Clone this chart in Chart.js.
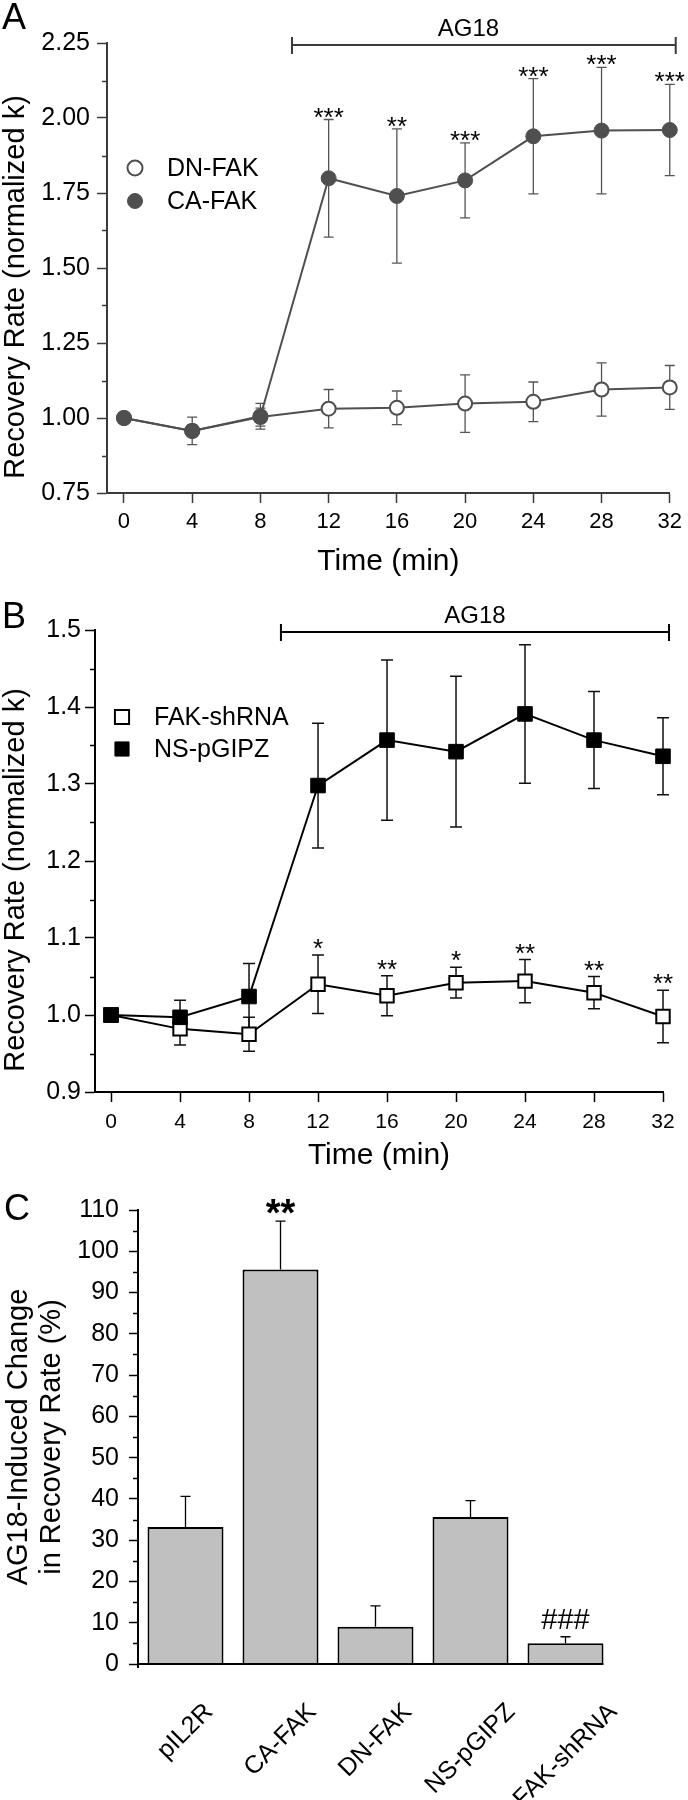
<!DOCTYPE html>
<html>
<head>
<meta charset="utf-8">
<script src="https://cdn.jsdelivr.net/npm/chart.js@4.4.0/dist/chart.umd.min.js"></script>
<style>
  body { margin: 0; background: #fff; width: 688px; height: 1800px; position: relative; overflow: hidden; }
  canvas { position: absolute; left: 0; }
</style>
</head>
<body>
<canvas id="panelA" width="688" height="590" style="top:0"></canvas>
<canvas id="panelB" width="688" height="590" style="top:590px"></canvas>
<canvas id="panelC" width="688" height="620" style="top:1180px"></canvas>
<script>
// time points (min)
const minutes = [0, 4, 8, 12, 16, 20, 24, 28, 32];
const ag18Span = [9.85, 32.35];

// panel A
const dnFak = [1.0, 0.957, 1.003, 1.031, 1.034, 1.048, 1.054, 1.095, 1.102];
const dnFakErr = [0, 0.02, 0.03, 0.064, 0.056, 0.096, 0.066, 0.089, 0.073];
const caFak = [1.0, 0.957, 1.006, 1.799, 1.740, 1.792, 1.939, 1.958, 1.960];
const caFakErr = [0, 0.046, 0.043, 0.196, 0.224, 0.125, 0.192, 0.211, 0.152];
const caFakStars = ['', '', '', '***', '**', '***', '***', '***', '***'];
const ticksA = [0.75, 1.0, 1.25, 1.5, 1.75, 2.0, 2.25];

// panel B
const fakShrna = [1.0, 0.982, 0.975, 1.040, 1.025, 1.042, 1.044, 1.029, 0.998];
const fakShrnaErr = [0, 0.021, 0.022, 0.038, 0.026, 0.020, 0.028, 0.021, 0.034];
const fakShrnaStars = ['', '', '', '*', '**', '*', '**', '**', '**'];
const nsPgipz = [1.0, 0.997, 1.024, 1.298, 1.357, 1.342, 1.391, 1.357, 1.336];
const nsPgipzErr = [0, 0.022, 0.043, 0.081, 0.104, 0.098, 0.090, 0.063, 0.050];
const ticksB = [0.9, 1.0, 1.1, 1.2, 1.3, 1.4, 1.5];

// panel C
const groups = ['pIL2R', 'CA-FAK', 'DN-FAK', 'NS-pGIPZ', 'FAK-shRNA'];
const changePct = [33.2, 95.6, 9.0, 35.6, 5.0];
const changeErr = [7.4, 11.7, 5.1, 4.0, 1.6];
const changeMarks = ['', '**', '', '', '###'];

const FONT = "'Liberation Sans', Arial, sans-serif";
Chart.defaults.font.family = FONT;
Chart.defaults.color = '#000';
Chart.defaults.animation = false;
Chart.defaults.plugins.legend.display = false;
Chart.defaults.plugins.tooltip.enabled = false;

function minorTicks(ctx, ys, majors, len, color) {
    const x = ys.right;
    ctx.save();
    ctx.strokeStyle = color;
    ctx.lineWidth = 1.5;
    ctx.beginPath();
    for (let i = 0; i < majors.length - 1; i++) {
        const y = Math.round(ys.getPixelForValue((majors[i] + majors[i + 1]) / 2)) + 0.5;
        ctx.moveTo(x - len, y);
        ctx.lineTo(x, y);
    }
    ctx.stroke();
    ctx.restore();
}

function marker(ctx, shape, x, y, r, filled, ink) {
    ctx.save();
    ctx.fillStyle = filled ? ink : '#fff';
    ctx.strokeStyle = ink;
    ctx.lineWidth = filled ? 1 : 2;
    ctx.beginPath();
    if (shape == 'circle') {
        ctx.arc(x, y, r, 0, Math.PI * 2);
    } else {
        const h = r * Math.SQRT1_2;
        ctx.rect(x - h, y - h, 2 * h, 2 * h);
    }
    ctx.fill();
    ctx.stroke();
    ctx.restore();
}

function timePanel(id, p) {
    const decor = {
        id: 'decor' + id,
        beforeDatasetsDraw(chart) {
            const ctx = chart.ctx, xs = chart.scales.x, ys = chart.scales.y;
            ctx.save();
            ctx.strokeStyle = p.errInk;
            ctx.lineWidth = p.errWidth;
            p.series.forEach(s => {
                s.values.forEach((v, i) => {
                    const e = s.err[i];
                    if (!e) return;
                    const x = xs.getPixelForValue(minutes[i]);
                    const y1 = ys.getPixelForValue(v + e), y2 = ys.getPixelForValue(v - e);
                    ctx.beginPath();
                    ctx.moveTo(x, y1); ctx.lineTo(x, y2);
                    ctx.moveTo(x - p.cap, y1); ctx.lineTo(x + p.cap, y1);
                    ctx.moveTo(x - p.cap, y2); ctx.lineTo(x + p.cap, y2);
                    ctx.stroke();
                });
            });
            ctx.restore();
        },
        afterDatasetsDraw(chart) {
            const ctx = chart.ctx, xs = chart.scales.x, ys = chart.scales.y;
            const area = chart.chartArea;
            minorTicks(ctx, ys, p.yTicks, 5, p.axisInk);

            // significance stars
            ctx.save();
            ctx.fillStyle = '#000';
            ctx.font = p.starSize + 'px ' + FONT;
            ctx.textAlign = 'center';
            ctx.textBaseline = 'alphabetic';
            const s = p.series[p.starSeries];
            p.stars.forEach((t, i) => {
                if (!t) return;
                const x = xs.getPixelForValue(minutes[i]);
                const y = ys.getPixelForValue(s.values[i] + s.err[i]);
                ctx.fillText(t, x, y + p.starDy);
            });

            // AG18 bracket
            const ax1 = xs.getPixelForValue(ag18Span[0]), ax2 = xs.getPixelForValue(ag18Span[1]);
            const ay = area.top + 2;
            ctx.strokeStyle = p.axisInk;
            ctx.lineWidth = 2;
            ctx.beginPath();
            ctx.moveTo(ax1, ay); ctx.lineTo(ax2, ay);
            ctx.moveTo(ax1, ay - 8); ctx.lineTo(ax1, ay + 9);
            ctx.moveTo(ax2, ay - 8); ctx.lineTo(ax2, ay + 9);
            ctx.stroke();
            ctx.font = '24px ' + FONT;
            ctx.textBaseline = 'middle';
            ctx.fillText('AG18', xs.getPixelForValue(p.agText), area.top - 14);

            // legend
            ctx.font = '25px ' + FONT;
            ctx.textAlign = 'left';
            p.series.forEach((sr, k) => {
                const ly = p.legend.y + k * p.legend.gap;
                marker(ctx, p.shape, p.legend.x, ly, p.shape == 'circle' ? 7.5 : 10, sr.filled, p.ink);
                ctx.fillStyle = '#000';
                ctx.fillText(sr.label, p.legend.x + 32, ly + 1);
            });

            // y title, panel letter
            ctx.save();
            ctx.translate(16, (area.top + area.bottom) / 2 + 19);
            ctx.rotate(-Math.PI / 2);
            ctx.font = '29px ' + FONT;
            ctx.textAlign = 'center';
            ctx.fillText('Recovery Rate (normalized k)', 0, 0);
            ctx.restore();
            ctx.font = '36px ' + FONT;
            ctx.textAlign = 'left';
            ctx.textBaseline = 'alphabetic';
            ctx.fillText(p.letter, 2, p.letterY);
            ctx.restore();
        }
    };

    return new Chart(document.getElementById(id), {
        type: 'line',
        data: {
            datasets: p.series.map(s => ({
                label: s.label,
                data: minutes.map((m, i) => ({x: m, y: s.values[i]})),
                borderColor: p.ink,
                borderWidth: 2,
                tension: 0,
                clip: false,
                pointStyle: p.shape,
                pointRadius: s.filled ? p.rFill : p.rOpen,
                pointBackgroundColor: s.filled ? p.ink : '#fff',
                pointBorderColor: p.ink,
                pointBorderWidth: s.filled ? 1 : 2,
                order: s.filled ? 0 : 1
            }))
        },
        options: {
            responsive: false,
            layout: {padding: p.pad},
            scales: {
                x: {
                    type: 'linear',
                    min: p.xMin,
                    max: 32,
                    afterBuildTicks: s => { s.ticks = minutes.map(v => ({value: v})); },
                    afterFit: s => { s.height = p.xh; },
                    grid: {drawOnChartArea: false, tickLength: 10, tickWidth: 1.5, tickColor: p.axisInk},
                    border: {color: p.axisInk, width: 2},
                    ticks: {font: {size: p.xTickSize}, padding: p.xPad, color: '#000', maxRotation: 0},
                    title: {display: true, text: 'Time (min)', color: '#000', font: {size: 30}, padding: {top: 0, bottom: p.titlePad}}
                },
                y: {
                    min: p.yTicks[0],
                    max: p.yTicks[p.yTicks.length - 1],
                    afterBuildTicks: s => { s.ticks = p.yTicks.map(v => ({value: v})); },
                    afterFit: s => { s.width = p.yw; },
                    grid: {drawOnChartArea: false, tickLength: 10, tickWidth: 1.5, tickColor: p.axisInk},
                    border: {color: p.axisInk, width: 2},
                    ticks: {font: {size: 25}, padding: p.yPad, color: '#000', callback: v => v.toFixed(p.digits)}
                }
            }
        },
        plugins: [decor]
    });
}

timePanel('panelA', {
    letter: 'A', letterY: 29,
    series: [
        {label: 'DN-FAK', values: dnFak, err: dnFakErr, filled: false},
        {label: 'CA-FAK', values: caFak, err: caFakErr, filled: true}
    ],
    starSeries: 1, stars: caFakStars, starSize: 26, starDy: 6,
    shape: 'circle', rFill: 7.5, rOpen: 7,
    ink: '#4f4f4f', axisInk: '#3a3a3a', errInk: '#555', errWidth: 1.3, cap: 5,
    pad: {top: 43, right: 18, bottom: 9, left: 0}, xh: 88, yw: 107,
    xMin: -0.996, xTickSize: 22, xPad: 6, titlePad: 1, yPad: 7,
    yTicks: ticksA, digits: 2, agText: 20.2,
    legend: {x: 135, y: 168, gap: 33}
});

timePanel('panelB', {
    letter: 'B', letterY: 38,
    series: [
        {label: 'FAK-shRNA', values: fakShrna, err: fakShrnaErr, filled: false},
        {label: 'NS-pGIPZ', values: nsPgipz, err: nsPgipzErr, filled: true}
    ],
    starSeries: 0, stars: fakShrnaStars, starSize: 26, starDy: 2,
    shape: 'rect', rFill: 10.3, rOpen: 9.5,
    ink: '#000', axisInk: '#000', errInk: '#111', errWidth: 1.5, cap: 6,
    pad: {top: 40, right: 25, bottom: 4, left: 0}, xh: 84, yw: 95,
    xMin: -0.93, xTickSize: 21, xPad: 8, titlePad: 2, yPad: 4,
    yTicks: ticksB, digits: 1, agText: 21.1,
    legend: {x: 122, y: 127, gap: 32}
});

const barDecor = {
    id: 'barDecor',
    afterDatasetsDraw(chart) {
        const ctx = chart.ctx, xs = chart.scales.x, ys = chart.scales.y;
        const area = chart.chartArea;
        const bars = chart.getDatasetMeta(0).data;
        minorTicks(ctx, ys, ys.ticks.map(t => t.value), 5, '#000');

        ctx.save();
        // error bars, upper side only
        ctx.strokeStyle = '#000';
        ctx.lineWidth = 1.3;
        changePct.forEach((v, i) => {
            const x = xs.getPixelForValue(i);
            const y0 = ys.getPixelForValue(v), y1 = ys.getPixelForValue(v + changeErr[i]);
            ctx.beginPath();
            ctx.moveTo(x, y0); ctx.lineTo(x, y1);
            ctx.moveTo(x - 5, y1); ctx.lineTo(x + 5, y1);
            ctx.stroke();
        });

        // x axis runs to the right edge of the last bar
        const last = bars[bars.length - 1];
        ctx.lineWidth = 2;
        ctx.beginPath();
        ctx.moveTo(area.left, area.bottom);
        ctx.lineTo(last.x + last.width / 2, area.bottom);
        ctx.moveTo(area.left, area.bottom);
        ctx.lineTo(area.left, area.bottom + 4);
        ctx.stroke();

        ctx.fillStyle = '#000';
        ctx.textAlign = 'center';
        ctx.textBaseline = 'alphabetic';
        changeMarks.forEach((t, i) => {
            if (!t) return;
            const x = xs.getPixelForValue(i);
            const y = ys.getPixelForValue(changePct[i] + changeErr[i]);
            if (t[0] == '*') {
                ctx.font = 'bold 38px ' + FONT;
                ctx.fillText(t, x, y + 5);
            } else {
                ctx.font = '29px ' + FONT;
                ctx.fillText(t, x, y - 8);
            }
        });

        // rotated category labels, box centred under each bar
        ctx.font = '25px ' + FONT;
        ctx.textAlign = 'right';
        ctx.textBaseline = 'middle';
        groups.forEach((g, i) => {
            const w = ctx.measureText(g).width;
            ctx.save();
            ctx.translate(xs.getPixelForValue(i) + w * 0.3536, area.bottom + 44);
            ctx.rotate(-Math.PI / 4);
            ctx.fillText(g, 0, 0);
            ctx.restore();
        });

        ctx.font = '36px ' + FONT;
        ctx.textAlign = 'left';
        ctx.textBaseline = 'alphabetic';
        ctx.fillText('C', 4, 40);
        ctx.restore();
    }
};

new Chart(document.getElementById('panelC'), {
    type: 'bar',
    data: {
        labels: groups,
        datasets: [{
            data: changePct,
            backgroundColor: '#c0c0c0',
            borderColor: '#000',
            borderWidth: 2,
            barPercentage: 0.8,
            categoryPercentage: 1.0
        }]
    },
    options: {
        responsive: false,
        layout: {padding: {top: 30, right: 75, bottom: 0, left: 0}},
        scales: {
            x: {
                afterFit: s => { s.height = 136; },
                grid: {display: false},
                border: {display: false},
                ticks: {display: false}
            },
            y: {
                min: 0,
                max: 110,
                afterFit: s => { s.width = 138; },
                grid: {drawOnChartArea: false, tickLength: 9, tickWidth: 1.5, tickColor: '#000'},
                border: {color: '#000', width: 2},
                ticks: {stepSize: 10, font: {size: 25}, padding: 10, color: '#000'},
                title: {
                    display: true,
                    text: ['AG18-Induced Change', 'in Recovery Rate (%)'],
                    color: '#000',
                    font: {size: 29, lineHeight: 1.15},
                    padding: {top: 2, bottom: 0}
                }
            }
        }
    },
    plugins: [barDecor]
});
</script>
</body>
</html>
